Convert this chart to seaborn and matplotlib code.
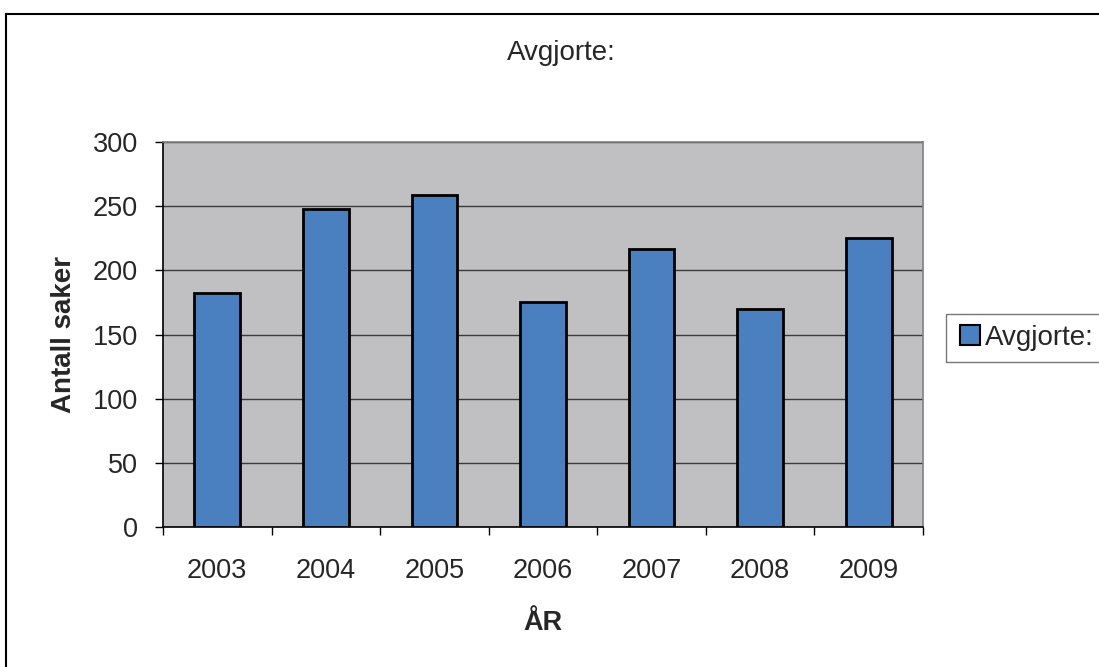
import numpy as np
import pandas as pd
import seaborn as sns
import matplotlib.pyplot as plt
from matplotlib.patches import Rectangle
from matplotlib.lines import Line2D

years = ['2003', '2004', '2005', '2006', '2007', '2008', '2009']
avgjorte = [182, 248, 259, 175, 217, 170, 225]

sns.set_style("white")
plt.rcParams['font.family'] = ['Liberation Sans', 'DejaVu Sans']

df = pd.DataFrame({'year': years, 'avgjorte': avgjorte})

fig = plt.figure(figsize=(10.99, 6.67), dpi=100)
ax = fig.add_axes([0.1483, 0.2099, 0.6916, 0.5772])
ax.set_facecolor('#c0c0c2')

sns.barplot(data=df, x='year', y='avgjorte', color='#4a80c0', saturation=1,
            width=0.42, edgecolor='black', linewidth=2, ax=ax, zorder=3)

ax.set_ylim(0, 300)
ax.set_xlim(-0.5, 6.5)
ax.set_yticks(np.arange(0, 301, 50))
ax.yaxis.grid(True, color='#3a3a3a', linewidth=1, zorder=1)
ax.set_axisbelow(True)

ax.tick_params(axis='y', direction='out', length=6, width=1, color='black',
               labelsize=19.5, pad=12, left=True)
ax.tick_params(axis='x', which='major', length=0, labelsize=19.5, pad=22)
ax.set_xticks(np.arange(-0.5, 7, 1), minor=True)
ax.tick_params(axis='x', which='minor', direction='out', length=6, width=1,
               color='black', bottom=True)

for side in ['left', 'bottom']:
    ax.spines[side].set_color('black')
    ax.spines[side].set_linewidth(1.2)
for side in ['top', 'right']:
    ax.spines[side].set_color('#808080')
    ax.spines[side].set_linewidth(1.2)

ax.set_xlabel('ÅR', fontsize=19.5, fontweight='bold', labelpad=19)
ax.set_ylabel('Antall saker', fontsize=20, fontweight='bold', labelpad=11)

fig.text(561 / 1099, 1 - 53 / 667, 'Avgjorte:', fontsize=20,
         ha='center', va='center')

handle = Line2D([], [], marker='s', linestyle='none', markersize=14,
                markerfacecolor='#4a80c0', markeredgecolor='black',
                markeredgewidth=1.5)
fig.legend([handle], ['Avgjorte:'], loc='upper left',
           bbox_to_anchor=(946 / 1099, 1 - 314 / 667), fontsize=20,
           frameon=True, fancybox=False, edgecolor='#555555',
           handletextpad=0.1, borderpad=0.4, handlelength=0.9,
           borderaxespad=0)

fig.patches.append(Rectangle((6 / 1099, -0.1), 1.2, 1.1 - 14 / 667,
                             transform=fig.transFigure, fill=False,
                             edgecolor='black', linewidth=1.5))

plt.savefig('out.png', dpi=100)
plt.close()
